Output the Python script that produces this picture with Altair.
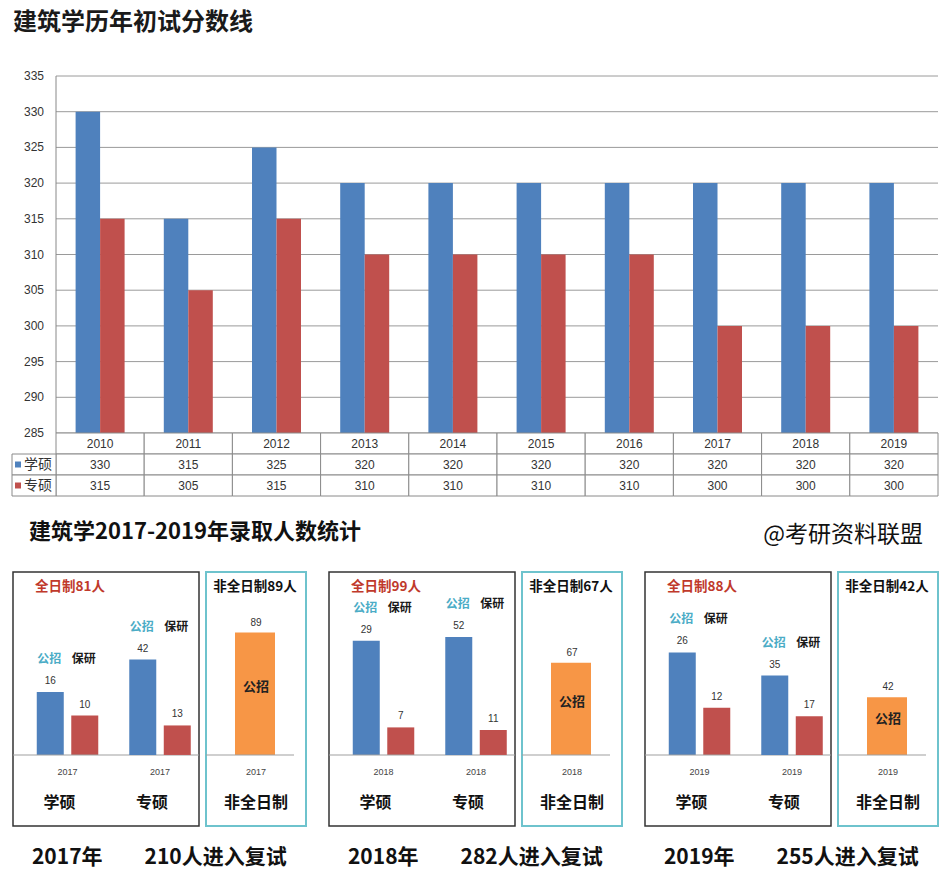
import altair as alt
import pandas as pd

# ---------------- data: top chart (初试分数线) ----------------
years = ["2010", "2011", "2012", "2013", "2014", "2015", "2016", "2017", "2018", "2019"]
xueshuo_line = [330, 315, 325, 320, 320, 320, 320, 320, 320, 320]
zhuanshuo_line = [315, 305, 315, 310, 310, 310, 310, 300, 300, 300]
series = ["学硕", "专硕"]
score_ticks = [285, 290, 295, 300, 305, 310, 315, 320, 325, 330, 335]
table_rows = ["年份", "学硕", "专硕"]

# ---------------- data: bottom (录取人数) ----------------
adm_years = ["2017", "2018", "2019"]
progs = ["学硕", "专硕"]
types = ["公招", "保研"]
xs_gongzhao = [16, 29, 26]
xs_baoyan = [10, 7, 12]
zs_gongzhao = [42, 52, 35]
zs_baoyan = [13, 11, 17]
pt_gongzhao = [89, 67, 42]
full_total = [81, 99, 88]
part_total = [89, 67, 42]
retest_total = [210, 282, 255]

top_title = "建筑学历年初试分数线"
section_title = "建筑学2017-2019年录取人数统计"
watermark = "@考研资料联盟"

FONT = "Noto Sans CJK SC"
NUMFONT = "Liberation Sans"
BLUE, RED, ORANGE = "#4F81BD", "#C0504D", "#F79646"
TEAL = "#4BACC6"

TW, H = 925, 357      # full width of the top block (plot area incl. left label column)
PL = 43               # where the bar plot starts inside it

# ---------------- top chart ----------------
scores = pd.DataFrame({
    "year": years * 2,
    "series": ["学硕"] * len(years) + ["专硕"] * len(years),
    "score": xueshuo_line + zhuanshuo_line,
})

tx = alt.X("year:N", axis=None,
           scale=alt.Scale(domain=years, range=[PL, TW], paddingInner=0, paddingOuter=0))
score_scale = alt.Scale(domain=[285, 335], zero=False, nice=False)
ysc = alt.Y("score:Q", title=None, scale=score_scale, axis=None)
ser_color = alt.Color("series:N", scale=alt.Scale(domain=series, range=[BLUE, RED]), legend=None)

ticks_df = pd.DataFrame({"tick": score_ticks})
grid = alt.Chart(ticks_df).mark_rule(color="#9a9a9a", strokeWidth=1).encode(
    y=alt.Y("tick:Q", scale=score_scale, axis=None), x=alt.value(PL), x2=alt.value(TW))
tick_lbl = alt.Chart(ticks_df).mark_text(align="right", baseline="middle", fontSize=12,
                                         color="#333", font=NUMFONT).encode(
    y=alt.Y("tick:Q", scale=score_scale, axis=None), x=alt.value(PL - 12), text="tick:Q")
domain_line = alt.Chart(ticks_df).transform_aggregate(lo="min(tick)", hi="max(tick)").mark_rule(
    color="#888", strokeWidth=1).encode(
    x=alt.value(PL), y=alt.Y("lo:Q", scale=score_scale, axis=None), y2="hi:Q")

bar_layers = []
for s, off in zip(series, [-12.25, 12.25]):
    bar_layers.append(
        alt.Chart(scores).transform_filter(alt.datum.series == s)
        .mark_bar(width=24.5, xOffset=off)
        .encode(x=tx, y=ysc, y2=alt.datum(285), color=ser_color)
    )
bars = alt.layer(grid, *bar_layers, domain_line, tick_lbl)

table = pd.DataFrame({
    "year": years * 3,
    "row": ["年份"] * len(years) + ["学硕"] * len(years) + ["专硕"] * len(years),
    "txt": years + [str(v) for v in xueshuo_line] + [str(v) for v in zhuanshuo_line],
})
ty = alt.Y("row:N", axis=None,
           scale=alt.Scale(domain=table_rows, range=[H, H + 63], paddingInner=0, paddingOuter=0))

cells = alt.Chart(table).mark_rect(fill="white", stroke="#8a8a8a", strokeWidth=1).encode(x=tx, y=ty)
cell_txt = alt.Chart(table).mark_text(fontSize=12, color="#333", font=NUMFONT).encode(
    x=tx, y=ty, text="txt:N")

legend_df = pd.DataFrame({"row": series, "series": series})
leg_cells = alt.Chart(legend_df).mark_rect(fill="white", stroke="#8a8a8a", strokeWidth=1).encode(
    x=alt.value(-1), x2=alt.value(PL), y=ty)
leg_sq = alt.Chart(legend_df).mark_square(size=36, opacity=1).encode(
    x=alt.value(5), y=ty, color=ser_color)
leg_txt = alt.Chart(legend_df).mark_text(align="left", fontSize=14, font=FONT, color="#333").encode(
    x=alt.value(11), y=ty, text="series:N")
table_layer = alt.layer(cells, cell_txt, leg_cells, leg_sq, leg_txt)

title_txt = alt.Chart(pd.DataFrame({"t": [top_title]})).mark_text(
    align="left", baseline="top", fontSize=24, fontWeight="bold", font=FONT, color="#1a1a1a"
).encode(x=alt.value(0), y=alt.value(-65), text="t:N")

top = alt.layer(bars, table_layer, title_txt).resolve_scale(
    y="independent").properties(width=TW, height=H)

# ---------------- header row ----------------
header = alt.layer(
    alt.Chart(pd.DataFrame({"t": [section_title]})).mark_text(
        align="left", baseline="middle", fontSize=22, fontWeight="bold", font=FONT, color="#111"
    ).encode(x=alt.value(16), y=alt.value(24), text="t:N"),
    alt.Chart(pd.DataFrame({"t": [watermark]})).mark_text(
        align="right", baseline="middle", fontSize=23, font=FONT, color="#111"
    ).encode(x=alt.value(910), y=alt.value(27), text="t:N"),
).properties(width=TW, height=52)

# ---------------- year panels ----------------
PW, PH, PARTW = 186, 254, 100
DOM_XS = [-18.0, 46.4]
DOM_ZS = [-31.3, 80.6]
DOM_PT = [-51.6, 133.0]
OFFS = [-17.25, 17.25]
BAR_COLORS = alt.Scale(domain=types, range=[BLUE, RED])
LABEL_COLORS = [TEAL, "#1a1a1a"]


def full_panel(i):
    yr = adm_years[i]
    df = pd.DataFrame({
        "prog": ["学硕", "学硕", "专硕", "专硕"],
        "type": ["公招", "保研", "公招", "保研"],
        "value": [xs_gongzhao[i], xs_baoyan[i], zs_gongzhao[i], zs_baoyan[i]],
    })
    xenc = alt.X("prog:N", axis=None,
                 scale=alt.Scale(domain=progs, paddingInner=0.3, paddingOuter=0.1554, align=0.77))

    def group(prog, dom, with_rule):
        sc = alt.Scale(domain=dom, nice=False, zero=False)
        yenc = alt.Y("value:Q", scale=sc, axis=None)
        base = alt.Chart(df).transform_filter(alt.datum.prog == prog).transform_joinaggregate(mx="max(value)")
        layers = []
        for t, off, lc in zip(types, OFFS, LABEL_COLORS):
            bt = base.transform_filter(alt.datum.type == t)
            layers.append(bt.mark_bar(width=27, xOffset=off).encode(
                x=xenc, y=yenc, y2=alt.datum(0),
                color=alt.Color("type:N", scale=BAR_COLORS, legend=None)))
            layers.append(bt.mark_text(xOffset=off, dy=-11, fontSize=10, color="#333", font=NUMFONT).encode(
                x=xenc, y=yenc, text="value:Q"))
            layers.append(bt.mark_text(xOffset=off - 1, dy=-33, fontSize=12, fontWeight="bold",
                                       font=FONT, color=lc).encode(
                x=xenc, y=alt.Y("mx:Q", scale=sc, axis=None), text="type:N"))
        if with_rule:
            layers.append(alt.Chart(pd.DataFrame({"v": [0]})).mark_rule(color="#a0a0a0", strokeWidth=1.2).encode(
                x=alt.value(0), x2=alt.value(PW), y=alt.Y("v:Q", scale=sc, axis=None)))
        return alt.layer(*layers)

    gdf = pd.DataFrame({"prog": progs, "yr": [yr, yr]})
    yl = alt.Chart(gdf).mark_text(fontSize=9, color="#444", font=NUMFONT).encode(
        x=xenc, y=alt.value(200), text="yr:N")
    cl = alt.Chart(gdf).mark_text(fontSize=16, fontWeight="bold", font=FONT, color="#111", dx=-8).encode(
        x=xenc, y=alt.value(231), text="prog:N")
    tt = alt.Chart(pd.DataFrame({"t": [f"全日制{full_total[i]}人"]})).mark_text(
        align="left", baseline="middle", fontSize=13.5, fontWeight="bold", font=FONT, color="#C0392B"
    ).encode(x=alt.value(22), y=alt.value(15), text="t:N")

    return alt.layer(group("学硕", DOM_XS, True), group("专硕", DOM_ZS, False), yl, cl, tt).resolve_scale(
        y="independent").properties(
        width=PW, height=PH, view=alt.ViewBackground(stroke="#333", strokeWidth=1.5))


def part_panel(i):
    yr = adm_years[i]
    df = pd.DataFrame({"prog": ["非全日制"], "type": ["公招"], "value": [pt_gongzhao[i]], "yr": [yr]})
    sc = alt.Scale(domain=DOM_PT, nice=False, zero=False)
    xp = alt.X("prog:N", axis=None, scale=alt.Scale(domain=["非全日制"], paddingInner=0, paddingOuter=0))
    yp = alt.Y("value:Q", scale=sc, axis=None)
    base = alt.Chart(df)
    bar = base.mark_bar(color=ORANGE, width=40, xOffset=-1).encode(x=xp, y=yp, y2=alt.datum(0))
    vt = base.mark_text(dy=-10, fontSize=10, color="#333", font=NUMFONT).encode(x=xp, y=yp, text="value:Q")
    inner = base.transform_calculate(mid="datum.value / 2").mark_text(
        dy=-7, fontSize=13, fontWeight="bold", font=FONT, color="#222").encode(
        x=xp, y=alt.Y("mid:Q", scale=sc, axis=None), text="type:N")
    rule = alt.Chart(pd.DataFrame({"v": [0]})).mark_rule(color="#a0a0a0", strokeWidth=1.2).encode(
        x=alt.value(0), x2=alt.value(88), y=alt.Y("v:Q", scale=sc, axis=None))
    yl = base.mark_text(fontSize=9, color="#444", font=NUMFONT).encode(x=xp, y=alt.value(200), text="yr:N")
    cl = base.mark_text(fontSize=16, fontWeight="bold", font=FONT, color="#111").encode(
        x=xp, y=alt.value(231), text="prog:N")
    tt = alt.Chart(pd.DataFrame({"t": [f"非全日制{part_total[i]}人"]})).mark_text(
        align="center", baseline="middle", fontSize=13.5, fontWeight="bold", font=FONT, color="#111"
    ).encode(x=alt.value(49), y=alt.value(15), text="t:N")
    return alt.layer(bar, vt, inner, rule, yl, cl, tt).properties(
        width=PARTW, height=PH, view=alt.ViewBackground(stroke="#6EC3CD", strokeWidth=2))


def year_panel(i):
    return alt.hconcat(full_panel(i), part_panel(i), spacing=3).properties(
        title=alt.TitleParams(
            text=f"{adm_years[i]}年\u3000\u3000{retest_total[i]}人进入复试",
            orient="bottom", anchor="middle", fontSize=21, fontWeight="bold", font=FONT,
            color="#111", offset=20))


panels = alt.hconcat(*[year_panel(i) for i in range(3)], spacing=20)

chart = alt.ConcatChart(
    concat=[top, header, panels], columns=1, spacing=10,
    padding={"left": 3, "top": 2, "right": 0, "bottom": 3},
).configure(font=FONT, view=alt.ViewConfig(stroke="transparent"))

chart.save("out.html", embed_options={"renderer": "svg", "actions": False})
